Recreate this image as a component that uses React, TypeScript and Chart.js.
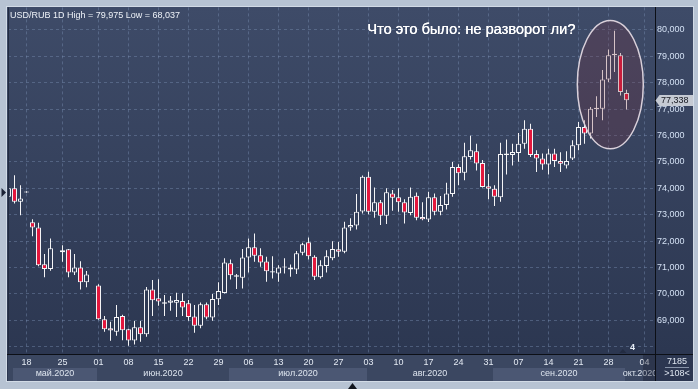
import { useEffect, useRef } from 'react';
import { Chart, registerables } from 'chart.js';

Chart.register(...registerables);

// ---- data: one entry per trading-day slot on the x axis (null = empty slot) ----
const opens: (number | null)[] = [
  73.68, 74.0, 73.49, 73.84, 72.72, 72.52, 71.13, 70.95, null, 71.58,
  71.69, 70.81, 71.0, 70.44, null, 70.32, 69.04, 68.7, 68.57, 69.17,
  68.66, 68.24, 68.74, 68.47, 70.17, 69.84, 69.63, 69.67, 69.67, 69.73,
  69.65, 69.15, 68.8, 69.61, 69.11, 69.8, 70.04, 71.16, 70.65, 70.61,
  71.38, 71.77, 71.47, 71.23, 70.81, 70.78, 71.0, 71.0, 70.93, 71.56,
  71.96, 71.41, 70.63, 71.06, 71.35, 71.69, 71.6, 72.52, 72.59, 73.12,
  74.44, 73.11, 73.47, 72.96, 73.81, 73.66, 73.47, 73.07, 73.72, 72.92,
  72.82, 73.66, 73.11, 73.37, 73.79, 74.81, 74.59, 75.19, 75.41, 74.96,
  74.08, 73.99, 73.66, 75.26, 75.26, 75.34, 75.69, 76.26, 75.3, 75.13,
  74.9, 75.32, 75.04, 74.87, 75.13, 75.63, 76.32, 76.08, 77.01, 77.02,
  78.12, 79.04, 79.04, 77.61,
];
const highs: (number | null)[] = [
  74.03, 74.5, 74.12, 73.89, 72.83, 72.7, 71.51, 72.1, null, 71.85,
  71.7, 71.51, 71.24, 70.87, null, 70.37, 69.17, 68.95, 69.58, 69.21,
  68.68, 68.98, 68.98, 70.26, 70.53, 70.56, 69.96, 69.92, 70.05, 70.03,
  69.77, 69.58, 69.68, 69.68, 70.0, 70.44, 71.35, 71.31, 70.76, 71.7,
  72.1, 72.29, 71.73, 71.41, 71.43, 71.09, 71.35, 71.12, 71.63, 71.94,
  72.14, 71.47, 71.28, 71.66, 72.0, 71.97, 72.74, 72.87, 73.79, 74.49,
  74.63, 74.03, 73.56, 74.0, 73.94, 74.0, 73.59, 74.03, 73.84, 73.47,
  73.87, 73.81, 73.71, 74.21, 75.0, 74.91, 75.73, 75.99, 75.69, 75.07,
  74.54, 74.12, 75.73, 75.85, 75.69, 76.1, 76.58, 76.45, 75.44, 75.32,
  75.5, 75.5, 75.37, 75.41, 75.82, 76.51, 76.58, 77.08, 77.49, 78.48,
  79.26, 79.975, 79.13, 77.74,
];
const lows: (number | null)[] = [
  73.64, 73.43, 72.98, 73.83, 72.19, 71.05, 70.63, 70.88, null, 71.22,
  70.63, 70.72, 70.17, 70.25, null, 69.02, 68.57, 68.23, 68.42, 68.25,
  68.037, 68.09, 68.19, 68.38, 69.17, 69.55, 69.17, 69.36, 69.13, 69.17,
  68.99, 68.53, 68.7, 69.04, 68.99, 69.58, 70.02, 70.55, 70.19, 70.21,
  70.81, 71.22, 71.03, 70.46, 70.59, 70.46, 70.78, 70.65, 70.76, 71.47,
  71.31, 70.53, 70.59, 70.81, 71.28, 71.41, 71.54, 72.39, 72.44, 73.05,
  73.02, 72.89, 72.61, 72.65, 73.15, 73.11, 72.67, 72.98, 72.79, 72.79,
  72.73, 72.98, 72.98, 73.2, 73.68, 74.12, 74.31, 75.09, 74.68, 74.03,
  73.59, 73.33, 73.49, 74.53, 74.87, 75.01, 75.5, 75.19, 74.62, 74.71,
  74.53, 74.81, 74.62, 74.75, 75.07, 75.44, 75.69, 75.89, 76.7, 76.58,
  78.03, 78.41, 77.52, 76.99,
];
const closes: (number | null)[] = [
  74.0, 73.49, 73.62, 73.88, 72.52, 71.09, 70.95, 71.73, null, 71.66,
  70.81, 71.0, 70.44, 70.74, null, 69.04, 68.66, 68.62, 69.13, 68.63,
  68.24, 68.74, 68.47, 70.17, 69.76, 69.71, 69.69, 69.75, 69.77, 69.49,
  69.13, 68.8, 69.61, 69.11, 69.81, 70.11, 71.19, 70.71, 70.71, 71.38,
  71.77, 71.45, 71.19, 70.86, 70.86, 71.0, 71.04, 70.93, 71.54, 71.88,
  71.43, 70.65, 71.09, 71.43, 71.7, 71.6, 72.52, 72.61, 73.11, 74.44,
  73.11, 73.47, 72.96, 73.85, 73.64, 73.47, 73.09, 73.68, 72.89, 72.83,
  73.66, 73.11, 73.37, 73.81, 74.81, 74.57, 75.22, 75.44, 74.94, 74.05,
  73.99, 73.68, 75.3, 75.32, 75.38, 75.69, 76.26, 75.26, 75.13, 74.9,
  75.32, 75.04, 74.93, 75.04, 75.63, 76.32, 76.08, 77.02, 77.05, 78.12,
  79.04, 79.1, 77.65, 77.338,
];

// x-axis labels (slot index of each labelled day)
const dayTickSlots = [3, 9, 15, 20, 25, 30, 35, 40, 45, 50, 55, 60, 65, 70, 75, 80, 85, 90, 95, 100, 106];
const dayTickLabels = ['18', '25', '01', '08', '15', '22', '29', '06', '13', '20', '27', '03', '10', '17', '24', '31', '07', '14', '21', '28', '04'];
const monthStartSlots = [1, 15, 37, 60, 81, 103];
const monthLabels = ['май.2020', 'июн.2020', 'июл.2020', 'авг.2020', 'сен.2020', 'окт.2020'];
const yTickValues = [68, 69, 70, 71, 72, 73, 74, 75, 76, 77, 78, 79, 80];
const yLabelFrom = 69;

const symbol = 'USD/RUB 1D';
const noteText = 'Что это было: не разворот ли?';
const footTop = '7185';
const footBottom = '>108<';
const markerText = '4';

// scale ranges
const X_MIN = -1 / 12;
const X_MAX = 107.75;
const Y_MIN = 67.726;
const Y_MAX = 80.855;

// highlight ellipse (in data units)
const ellipseSlot = 100.3;
const ellipseValue = 77.93;
const ellipseSlotRadius = 5.5;
const ellipseValueRadius = 2.43;
const leftMarkerValue = 73.84;

const RED = '#e3173d';
const WHITE = '#f4f4f6';
const GRID = 'rgba(125,145,182,0.42)';
const FONT = '"Liberation Sans", Arial, sans-serif';

const fmt = (v: number) => v.toFixed(3).replace('.', ',');

export default function App() {
  const ref = useRef<HTMLCanvasElement>(null);

  useEffect(() => {
    const canvas = ref.current;
    if (!canvas) return;
    Chart.defaults.font.family = FONT;

    const bodies: any[] = [];
    const wicks: any[] = [];
    opens.forEach((o, i) => {
      const c = closes[i];
      if (o === null || c === null) return;
      bodies.push({ x: i, y: [o, c], bear: c < o });
      wicks.push({ x: i, y: [lows[i], highs[i]] });
    });

    const validHighs = highs.filter((v) => v !== null) as number[];
    const validLows = lows.filter((v) => v !== null) as number[];
    const titleText = `${symbol} High = ${fmt(Math.max(...validHighs))} Low = ${fmt(Math.min(...validLows))}`;
    const lastClose = [...closes].reverse().find((v) => v !== null) as number;

    const bandOf = (k: number) => {
      const a = Math.max(X_MIN, monthStartSlots[k] - 0.25);
      const b = k + 1 < monthStartSlots.length ? monthStartSlots[k + 1] - 0.25 : X_MAX;
      return [a, b];
    };
    const monthCenters = monthStartSlots.map((_s, k) => {
      const [a, b] = bandOf(k);
      return (a + b) / 2;
    });

    let grad: CanvasGradient | null = null;
    const getGrad = (ctx: CanvasRenderingContext2D) => {
      if (!grad) {
        grad = ctx.createLinearGradient(0, 7, 0, 381);
        grad.addColorStop(0, '#3e4b68');
        grad.addColorStop(0.92, '#2c3751');
        grad.addColorStop(1, '#2c3650');
      }
      return grad;
    };

    const decor = {
      id: 'decor',
      beforeDraw(chart: any) {
        const { ctx, chartArea: ca, width, height } = chart;
        const xs = chart.scales.x;
        ctx.save();
        ctx.fillStyle = '#b7c3d3';
        ctx.fillRect(0, 0, width, height);
        ctx.fillStyle = '#d2dbe6';
        ctx.fillRect(6, 6, 688, 376);
        ctx.fillStyle = getGrad(ctx);
        ctx.fillRect(7, 7, 686, 374);
        // date strip
        ctx.fillStyle = '#3b4761';
        ctx.fillRect(ca.left, ca.bottom, ca.right - ca.left, 381 - ca.bottom);
        monthStartSlots.forEach((_s, k) => {
          if (k % 2 !== 0) return;
          const [a, b] = bandOf(k);
          const x0 = Math.round(xs.getPixelForValue(a));
          const x1 = Math.round(xs.getPixelForValue(b));
          ctx.fillStyle = '#4b5773';
          ctx.fillRect(x0, 368, x1 - x0, 13);
        });
        ctx.restore();
      },
      afterDatasetsDraw(chart: any) {
        const { ctx, chartArea: ca } = chart;
        const xs = chart.scales.x;
        const ys = chart.scales.y;
        ctx.save();
        // left dark edge of plot
        ctx.fillStyle = '#222b40';
        ctx.fillRect(ca.left, ca.top, 1, ca.bottom - ca.top);

        // highlight ellipse
        const cx = xs.getPixelForValue(ellipseSlot);
        const cy = ys.getPixelForValue(ellipseValue);
        const rx = Math.abs(xs.getPixelForValue(ellipseSlot + ellipseSlotRadius) - cx);
        const ry = Math.abs(ys.getPixelForValue(ellipseValue + ellipseValueRadius) - cy);
        ctx.beginPath();
        ctx.ellipse(cx, cy, rx, ry, 0, 0, Math.PI * 2);
        ctx.fillStyle = 'rgba(122,46,58,0.25)';
        ctx.fill();
        ctx.strokeStyle = '#d9d0da';
        ctx.lineWidth = 1.5;
        ctx.stroke();

        // note text
        ctx.font = `14.6px ${FONT}`;
        ctx.fillStyle = '#ffffff';
        ctx.textAlign = 'right';
        ctx.textBaseline = 'alphabetic';
        ctx.fillText(noteText, cx - rx - 2, 33.5);
        ctx.fillText(noteText, cx - rx - 1.7, 33.5);

        // title
        ctx.font = `9px ${FONT}`;
        ctx.textAlign = 'left';
        ctx.fillStyle = '#eef2f8';
        ctx.fillText(titleText, 10, 18);

        // axis lines
        ctx.fillStyle = '#0c0f16';
        ctx.fillRect(7, ca.bottom, 686, 1);

        // right panel bottom (clip overflowing month label)
        ctx.fillStyle = getGrad(ctx);
        ctx.fillRect(ca.right, ca.bottom + 1, 693 - ca.right, 381 - ca.bottom - 1);
        ctx.fillStyle = '#0c0f16';
        ctx.fillRect(ca.right, 7, 1, 374);

        ctx.fillStyle = '#dfe6f0';
        ctx.textAlign = 'center';
        ctx.textBaseline = 'middle';
        ctx.font = `9px ${FONT}`;
        ctx.fillText(footTop, 677, 362);
        ctx.fillText(footBottom, 677, 374);
        ctx.fillStyle = '#8793a8';
        ctx.fillRect(665, 367, 24, 1);

        // highlight box at last date label
        ctx.fillStyle = 'rgba(12,18,32,0.3)';
        ctx.fillRect(643, ca.bottom + 1, ca.right - 643, 381 - ca.bottom - 1);

        // last price label
        const py = Math.round(ys.getPixelForValue(lastClose)) + 0.5;
        ctx.beginPath();
        ctx.moveTo(655.5, py);
        ctx.lineTo(659.5, py - 5.5);
        ctx.lineTo(693, py - 5.5);
        ctx.lineTo(693, py + 5.5);
        ctx.lineTo(659.5, py + 5.5);
        ctx.closePath();
        ctx.fillStyle = '#c5cad3';
        ctx.fill();
        ctx.fillStyle = '#15171f';
        ctx.textAlign = 'left';
        ctx.fillText(fmt(lastClose), 661, py + 0.5);

        // small marker near the bottom right
        const mx = xs.getPixelForValue(104);
        ctx.fillStyle = '#e8eef6';
        ctx.textAlign = 'center';
        ctx.font = `bold 9px ${FONT}`;
        ctx.fillText(markerText, mx, ca.bottom - 6);
        const tx = xs.getPixelForValue(102.4);
        ctx.beginPath();
        ctx.moveTo(tx - 3.5, ca.bottom - 1);
        ctx.lineTo(tx + 3.5, ca.bottom - 1);
        ctx.lineTo(tx, ca.bottom - 5);
        ctx.closePath();
        ctx.fillStyle = '#232c42';
        ctx.fill();

        // left frame marker
        const ly = ys.getPixelForValue(leftMarkerValue);
        ctx.beginPath();
        ctx.moveTo(1.5, ly - 4.5);
        ctx.lineTo(6, ly);
        ctx.lineTo(1.5, ly + 4.5);
        ctx.closePath();
        ctx.fillStyle = '#1b2236';
        ctx.fill();

        // bottom frame marker
        ctx.beginPath();
        ctx.moveTo(348, 389);
        ctx.lineTo(357, 389);
        ctx.lineTo(352.5, 383);
        ctx.closePath();
        ctx.fillStyle = '#11151d';
        ctx.fill();
        ctx.restore();
      },
    };

    const chart = new Chart(canvas, {
      type: 'bar',
      data: {
        datasets: [
          {
            label: 'body',
            data: bodies,
            xAxisID: 'x',
            grouped: false,
            barThickness: 5,
            borderWidth: 1,
            borderColor: WHITE,
            borderSkipped: false,
            inflateAmount: 0,
            clip: 0,
            backgroundColor: (c: any) => (c.raw && c.raw.bear ? RED : getGrad(c.chart.ctx)),
          } as any,
          {
            label: 'wick',
            data: wicks,
            xAxisID: 'x',
            grouped: false,
            barThickness: 1,
            borderWidth: 0,
            inflateAmount: 0,
            clip: 0,
            backgroundColor: WHITE,
          } as any,
        ],
      },
      options: {
        responsive: false,
        animation: false,
        devicePixelRatio: 1,
        layout: { padding: { left: 8, top: 7, right: 8, bottom: 8 } },
        plugins: { legend: { display: false }, tooltip: { enabled: false } },
        scales: {
          x: {
            type: 'linear',
            position: 'bottom',
            min: X_MIN,
            max: X_MAX,
            bounds: 'data',
            offset: false,
            afterBuildTicks: (s: any) => {
              s.ticks = dayTickSlots.map((v) => ({ value: v }));
            },
            afterFit: (s: any) => {
              s.height = 14;
            },
            ticks: {
              autoSkip: false,
              maxRotation: 0,
              minRotation: 0,
              padding: 3,
              color: '#e3e9f2',
              font: { size: 9, family: FONT },
              callback: (v: any) => {
                const k = dayTickSlots.indexOf(v);
                return k >= 0 ? dayTickLabels[k] : '';
              },
            },
            grid: { color: GRID, lineWidth: 1, drawTicks: false, offset: false },
            border: { display: false, dash: [3, 3] },
          },
          x2: {
            type: 'linear',
            position: 'bottom',
            weight: 1,
            min: X_MIN,
            max: X_MAX,
            bounds: 'data',
            offset: false,
            afterBuildTicks: (s: any) => {
              s.ticks = monthCenters.map((v) => ({ value: v }));
            },
            afterFit: (s: any) => {
              s.height = 13;
            },
            ticks: {
              autoSkip: false,
              maxRotation: 0,
              minRotation: 0,
              padding: 0,
              color: '#dde4ee',
              font: { size: 9, family: FONT },
              callback: (_v: any, i: number) => monthLabels[i],
            },
            grid: { display: false, drawTicks: false, offset: false },
            border: { display: false },
          },
          y: {
            type: 'linear',
            position: 'right',
            min: Y_MIN,
            max: Y_MAX,
            bounds: 'data',
            afterBuildTicks: (s: any) => {
              s.ticks = yTickValues.map((v) => ({ value: v }));
            },
            afterFit: (s: any) => {
              s.width = 35;
            },
            ticks: {
              padding: 2,
              color: '#d3e0f3',
              font: { size: 9, family: FONT },
              callback: (v: any) => (v < yLabelFrom ? '' : fmt(Number(v))),
            },
            grid: { color: GRID, lineWidth: 1, drawTicks: false },
            border: { display: false, dash: [3, 3] },
          },
        },
      } as any,
      plugins: [decor],
    });

    return () => chart.destroy();
  }, []);

  return (
    <div style={{ position: 'fixed', left: 0, top: 0, width: 698, height: 389 }}>
      <canvas ref={ref} width={698} height={389} style={{ display: 'block', width: 698, height: 389 }} />
    </div>
  );
}
